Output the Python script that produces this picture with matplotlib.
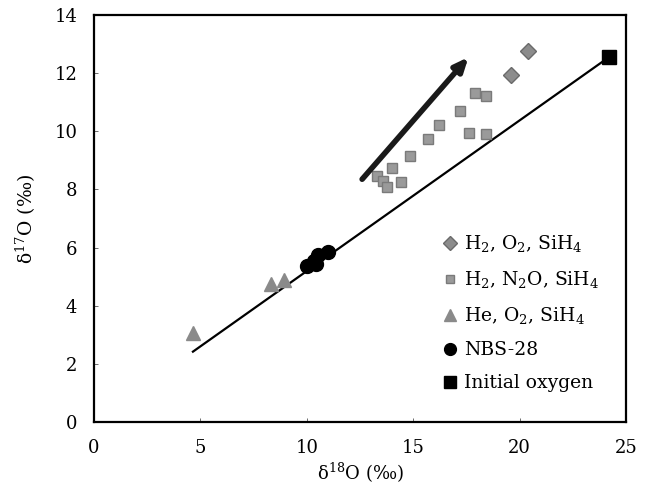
import matplotlib
matplotlib.use("Agg")
import matplotlib.pyplot as plt

plt.rcParams["font.family"] = ["DejaVu Serif"]
plt.rcParams["mathtext.fontset"] = "dejavuserif"

# --- data ---
o2_x = [20.4, 19.6]
o2_y = [12.75, 11.95]

n2o_x = [17.9, 18.4, 17.2, 16.2, 15.7, 17.6, 18.4, 14.85, 14.0, 13.3, 13.6, 13.75, 14.45]
n2o_y = [11.3, 11.2, 10.7, 10.2, 9.75, 9.95, 9.9, 9.15, 8.75, 8.45, 8.3, 8.1, 8.25]

he_x = [4.65, 8.3, 8.95]
he_y = [3.05, 4.75, 4.9]

nbs_x = [10.0, 10.35, 10.55, 10.45, 11.0]
nbs_y = [5.35, 5.55, 5.75, 5.45, 5.85]

init_x = [24.2]
init_y = [12.55]

# mass-dependent fractionation line
line_x = [4.65, 24.2]
line_y = [2.42, 12.55]

# trend arrow
arrow_start = (12.6, 8.35)
arrow_end = (17.6, 12.55)

fig = plt.figure(figsize=(6.47, 4.93), dpi=100)
ax = fig.add_axes([0.1453, 0.144, 0.8222, 0.8256])

ax.plot(line_x, line_y, color="black", lw=1.6, zorder=2)

ax.plot(o2_x, o2_y, ls="none", marker="D", ms=8, mfc="#8c8c8c", mec="#6a6a6a",
        label=r"H$_2$, O$_2$, SiH$_4$", zorder=3)
ax.plot(n2o_x, n2o_y, ls="none", marker="s", ms=7.5, mfc="#9a9a9a", mec="#7a7a7a",
        label=r"H$_2$, N$_2$O, SiH$_4$", zorder=3)
ax.plot(he_x, he_y, ls="none", marker="^", ms=10, mfc="#8a8a8a", mec="#8a8a8a",
        label=r"He, O$_2$, SiH$_4$", zorder=3)
ax.plot(nbs_x, nbs_y, ls="none", marker="o", ms=10, color="black",
        label="NBS-28", zorder=4)
ax.plot(init_x, init_y, ls="none", marker="s", ms=10, color="black",
        label="Initial oxygen", zorder=4)

ax.annotate("", xy=arrow_end, xytext=arrow_start,
            arrowprops=dict(arrowstyle="-|>,head_length=0.8,head_width=0.35",
                            color="#1a1a1a", lw=4, shrinkA=0, shrinkB=0))

ax.set_xlim(0, 25)
ax.set_ylim(0, 14)
ax.set_xticks(range(0, 26, 5))
ax.set_yticks(range(0, 15, 2))
ax.tick_params(direction="in", length=3, width=0.6, color="#555555",
               labelsize=13, pad=12)
for s in ax.spines.values():
    s.set_linewidth(1.6)

ax.set_xlabel("δ$^{18}$O (‰)", fontsize=13, labelpad=3)
ax.set_ylabel("δ$^{17}$O (‰)", fontsize=13.5, labelpad=12)

ax.legend(loc="upper left", bbox_to_anchor=(0.638, 0.482), frameon=False,
          fontsize=13.5, handletextpad=0.25, handlelength=1.0,
          labelspacing=0.8, borderaxespad=0, markerscale=0.85)

fig.savefig("out.png", dpi=100)
